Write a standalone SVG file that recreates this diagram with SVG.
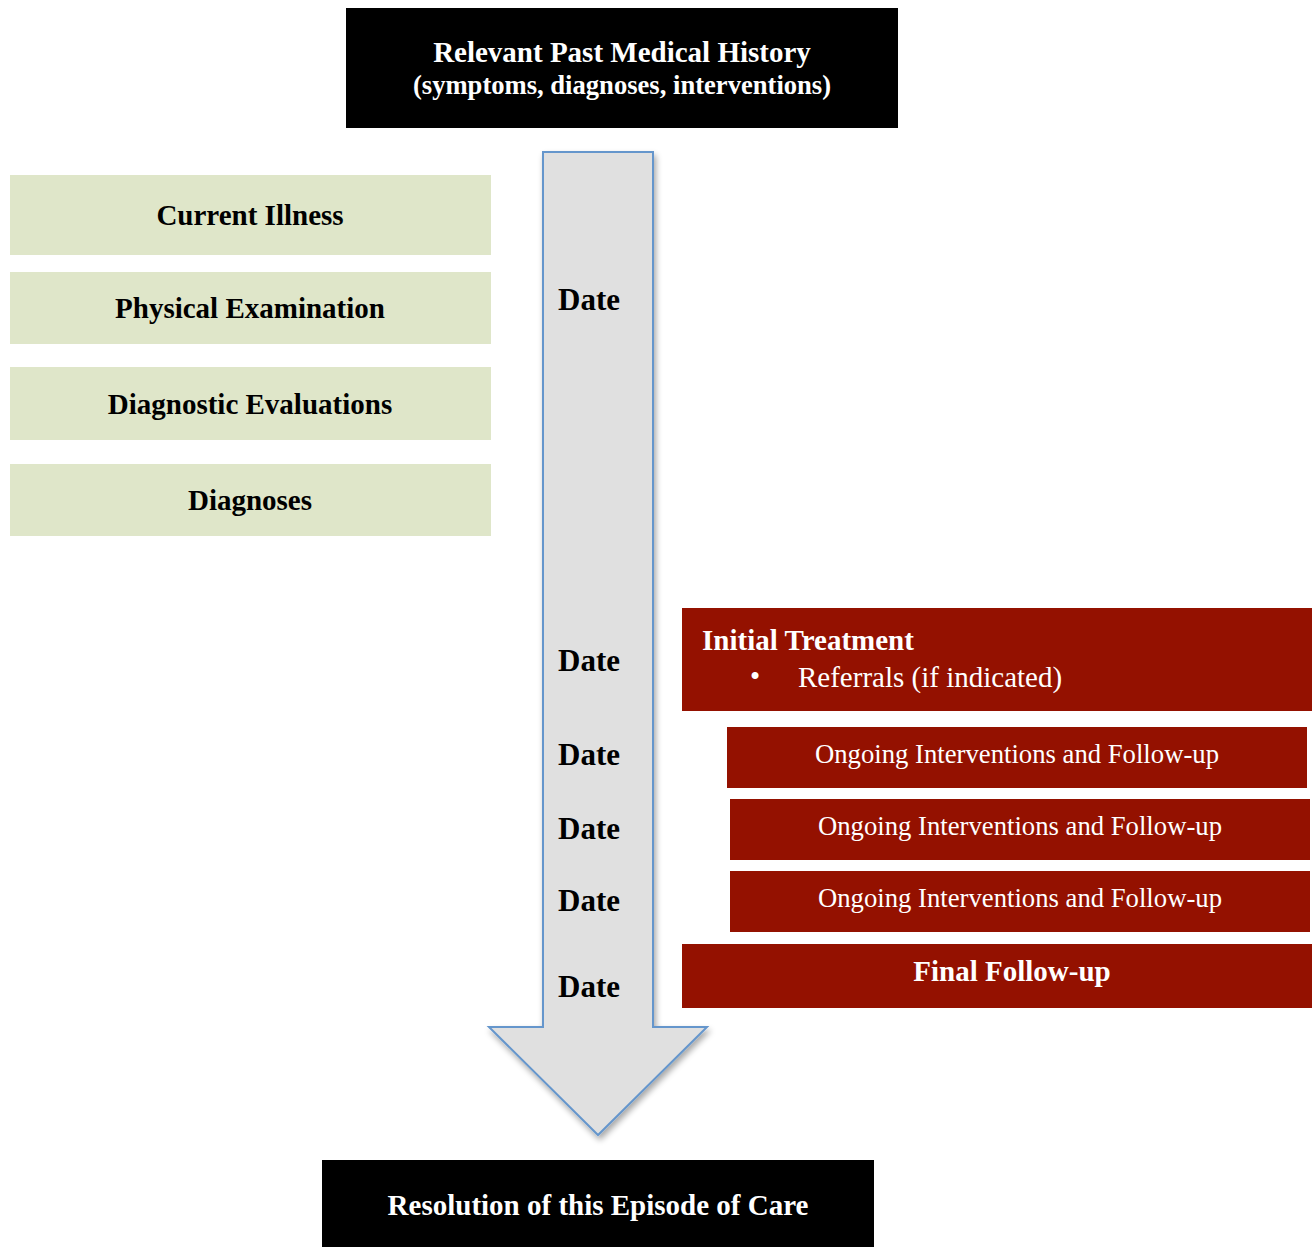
<svg xmlns="http://www.w3.org/2000/svg" width="1312" height="1247" viewBox="0 0 1312 1247">
<style>
text{font-family:"Liberation Serif","Times New Roman",serif;font-size:29px}
.b{font-weight:bold}
.w{fill:#fff}
.k{fill:#000}
.c{text-anchor:middle}
.green{fill:#dfe6c9}
.red{fill:#941100}
.blk{fill:#000}
.date{font-weight:bold;font-size:31px;fill:#000}
</style>
<defs>
<filter id="sh" x="-20%" y="-5%" width="140%" height="115%">
<feGaussianBlur in="SourceAlpha" stdDeviation="3"/>
<feOffset dx="2" dy="4" result="o"/>
<feComponentTransfer><feFuncA type="linear" slope="0.35"/></feComponentTransfer>
<feMerge><feMergeNode/><feMergeNode in="SourceGraphic"/></feMerge>
</filter>
</defs>
<g id="connectors">
<path id="timeline-arrow" d="M543,152 H653 V1027 H707 L598,1135 L489,1027 H543 Z" fill="#e0e0e0" stroke="#6596cc" stroke-width="2" filter="url(#sh)"/>
</g>
<g id="history">
<rect class="blk" x="346" y="8" width="552" height="120"/>
<text class="b w c" x="622" y="62">Relevant Past Medical History</text>
<text class="b w c" x="622" y="94" style="font-size:26.6px">(symptoms, diagnoses, interventions)</text>
</g>
<g id="current-illness">
<rect class="green" x="10" y="175" width="481" height="80"/>
<text class="b k c" x="250" y="225">Current Illness</text>
</g>
<g id="physical-examination">
<rect class="green" x="10" y="272" width="481" height="72"/>
<text class="b k c" x="250" y="318">Physical Examination</text>
</g>
<g id="diagnostic-evaluations">
<rect class="green" x="10" y="367" width="481" height="73"/>
<text class="b k c" x="250" y="414">Diagnostic Evaluations</text>
</g>
<g id="diagnoses">
<rect class="green" x="10" y="464" width="481" height="72"/>
<text class="b k c" x="250" y="510">Diagnoses</text>
</g>
<g id="dates">
<text class="date" x="558" y="310">Date</text>
<text class="date" x="558" y="671">Date</text>
<text class="date" x="558" y="765">Date</text>
<text class="date" x="558" y="839">Date</text>
<text class="date" x="558" y="911">Date</text>
<text class="date" x="558" y="997">Date</text>
</g>
<g id="initial-treatment">
<rect class="red" x="682" y="608" width="630" height="103"/>
<text class="b w" x="702" y="650">Initial Treatment</text>
<text class="w" x="750" y="686">•</text>
<text class="w" x="798" y="687">Referrals (if indicated)</text>
</g>
<g id="ongoing-1">
<rect class="red" x="727" y="727" width="580" height="61"/>
<text class="w c" x="1017" y="763" style="font-size:26.7px">Ongoing Interventions and Follow-up</text>
</g>
<g id="ongoing-2">
<rect class="red" x="730" y="799" width="580" height="61"/>
<text class="w c" x="1020" y="835" style="font-size:26.7px">Ongoing Interventions and Follow-up</text>
</g>
<g id="ongoing-3">
<rect class="red" x="730" y="871" width="580" height="61"/>
<text class="w c" x="1020" y="907" style="font-size:26.7px">Ongoing Interventions and Follow-up</text>
</g>
<g id="final-follow-up">
<rect class="red" x="682" y="944" width="630" height="64"/>
<text class="b w c" x="1012" y="981">Final Follow-up</text>
</g>
<g id="resolution">
<rect class="blk" x="322" y="1160" width="552" height="87"/>
<text class="b w c" x="598" y="1215">Resolution of this Episode of Care</text>
</g>
</svg>
